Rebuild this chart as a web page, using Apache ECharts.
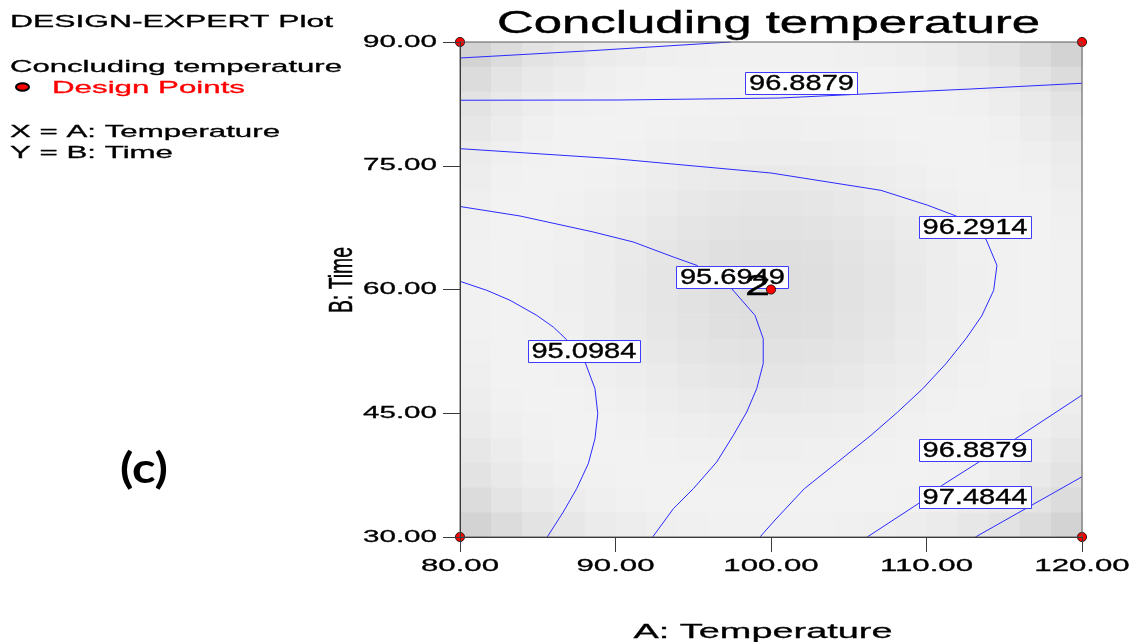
<!DOCTYPE html>
<html>
<head>
<meta charset="utf-8">
<script src="https://cdn.jsdelivr.net/npm/echarts@6/dist/echarts.min.js"></script>
<style>
  html, body { margin: 0; padding: 0; background: #ffffff; }
  #chart { width: 1131px; height: 642px; }
</style>
</head>
<body>
<div id="chart"></div>
<script>
// ---- axes ----
const xTicks = [80, 90, 100, 110, 120];
const yTicks = [30, 45, 60, 75, 90];

// ---- contour levels of the response "Concluding temperature" ----
const levels = [95.0984, 95.6949, 96.2914, 96.8879, 97.4844];

// contour traces, [A: Temperature, B: Time]
const contour95_0984 = [[80, 60.99], [81.72, 59.90], [83.22, 58.69], [84.93, 56.87], [86.0, 55.45], [86.86, 53.92], [88.04, 51.21], [88.68, 47.98], [88.86, 44.95], [88.68, 41.92], [88.25, 38.89], [87.5, 35.85], [86.64, 33.03], [85.61, 30]];
const contour95_6949 = [[80, 70.06], [83.86, 68.91], [88.57, 66.97], [91.14, 65.76], [93.72, 63.94], [95.22, 62.93], [97.47, 60.10], [98.97, 56.87], [99.5, 54.04], [99.5, 51.01], [99.08, 47.98], [98.44, 45.15], [97.58, 42.33], [96.51, 39.09], [95.0, 35.85], [93.72, 33.43], [92.39, 30]];
const contour96_2914 = [[80, 77.07], [89.97, 75.85], [100.0, 74.12], [107.07, 72.02], [110.08, 70.21], [111.9, 68.91], [113.83, 66.08], [114.53, 62.93], [114.32, 59.9], [113.55, 56.79], [112.54, 54.04], [111.25, 51.01], [109.76, 47.98], [108.15, 45.15], [106.43, 42.33], [104.29, 39.09], [102.14, 35.85], [100.26, 32.06], [99.29, 30]];
const contour96_8879Top = [[80, 82.94], [90.29, 82.97], [100.58, 83.21], [105.53, 83.66], [112.8, 84.3], [120, 85.0]];
const contour96_8879Low = [[106.19, 30], [109.47, 34.04], [111.01, 36.27], [113.37, 39.09], [115.73, 41.91], [120, 47.2]];
const contour97_4844Top = [[80, 88.06], [88.55, 88.96], [97.4, 90]];
const contour97_4844Low = [[113.15, 30], [120, 37.3]];

const contourPieces = [
  { level: 0, points: contour95_0984 },
  { level: 1, points: contour95_6949 },
  { level: 2, points: contour96_2914 },
  { level: 3, points: contour96_8879Top },
  { level: 3, points: contour96_8879Low },
  { level: 4, points: contour97_4844Top },
  { level: 4, points: contour97_4844Low }
];

// where each level's value tag sits: [A, B, level index]
const labelSpots = [[101.96, 84.97, 3], [113.12, 67.52, 2], [97.52, 61.52, 1], [87.97, 52.55, 0], [113.12, 40.55, 3], [113.12, 34.79, 4]];

// design points: [A, B, replicates]
const designPoints = [[80, 30, 1], [80, 90, 1], [120, 30, 1], [120, 90, 1], [100, 60, 2]];

// background shading, grey level per cell, rows from B = 90 down to B = 30
const shadeRows = [
  [211,220,227,231,235,237,239,240,241,241,241,241,240,239,237,235,231,227,220,211],
  [220,228,233,236,239,241,242,242,242,242,242,242,242,242,241,239,236,233,228,220],
  [227,233,237,240,241,242,242,242,241,241,241,241,242,242,242,241,240,237,233,227],
  [231,236,240,242,242,242,241,240,240,239,239,240,240,241,242,242,242,240,236,231],
  [235,239,241,242,242,241,239,238,237,237,237,237,238,239,241,242,242,241,239,235],
  [237,241,242,242,241,239,237,235,234,233,233,234,235,237,239,241,242,242,241,237],
  [239,242,242,241,239,237,235,232,230,229,229,230,232,235,237,239,241,242,242,239],
  [240,242,242,240,238,235,232,229,227,226,226,227,229,232,235,238,240,242,242,240],
  [241,242,241,240,237,234,230,227,224,223,223,224,227,230,234,237,240,241,242,241],
  [241,242,241,239,237,233,229,226,223,222,222,223,226,229,233,237,239,241,242,241],
  [241,242,241,239,237,233,229,226,223,222,222,223,226,229,233,237,239,241,242,241],
  [241,242,241,240,237,234,230,227,224,223,223,224,227,230,234,237,240,241,242,241],
  [240,242,242,240,238,235,232,229,227,226,226,227,229,232,235,238,240,242,242,240],
  [239,242,242,241,239,237,235,232,230,229,229,230,232,235,237,239,241,242,242,239],
  [237,241,242,242,241,239,237,235,234,233,233,234,235,237,239,241,242,242,241,237],
  [235,239,241,242,242,241,239,238,237,237,237,237,238,239,241,242,242,241,239,235],
  [231,236,240,242,242,242,241,240,240,239,239,240,240,241,242,242,242,240,236,231],
  [227,233,237,240,241,242,242,242,241,241,241,241,242,242,242,241,240,237,233,227],
  [220,228,233,236,239,241,242,242,242,242,242,242,242,242,241,239,236,233,228,220],
  [211,220,227,231,235,237,239,240,241,241,241,241,240,239,237,235,231,227,220,211]
];

// ---- helpers ----
const FONT = '"Liberation Sans", Arial, sans-serif';
const X_MIN = xTicks[0], X_MAX = xTicks[xTicks.length - 1];
const Y_MIN = yTicks[0], Y_MAX = yTicks[yTicks.length - 1];
const measureCtx = document.createElement('canvas').getContext('2d');
function widthOf(text, font) { measureCtx.font = font; return measureCtx.measureText(text).width; }
function stretchTo(text, font, width) { return width / widthOf(text, font); }

// text style with a hairline outline so the wide lettering keeps its weight
function inkStyle(text, font, color, align, outline) {
  return { text: text, x: 0, y: 0, font: font, fill: color,
           stroke: outline ? color : null, lineWidth: outline || 0,
           align: align, verticalAlign: 'middle', textAlign: align, textVerticalAlign: 'middle' };
}

function wideText(text, x, y, size, width, opt) {
  opt = opt || {};
  const font = (opt.weight || 'normal') + ' ' + size + 'px ' + (opt.family || FONT);
  return {
    type: 'text', x: x, y: y, z: 20,
    scaleX: stretchTo(text, font, width),
    style: inkStyle(text, font, opt.color || '#000000', opt.align || 'left',
                    opt.outline === undefined ? 0.3 : opt.outline)
  };
}

// shading cells centred on the grid
const nCols = shadeRows[0].length, nRows = shadeRows.length;
const cellW = (X_MAX - X_MIN) / nCols, cellH = (Y_MAX - Y_MIN) / nRows;
const shadeCells = [];
shadeRows.forEach(function (row, r) {
  row.forEach(function (v, c) {
    shadeCells.push([X_MIN + (c + 0.5) * cellW, Y_MAX - (r + 0.5) * cellH, v]);
  });
});

const tickFont = '17px ' + FONT;
const xTickStretch = stretchTo('90.00', tickFont, 78);
const yTickStretch = stretchTo('90.00', tickFont, 74);
const tagFont = '21.5px ' + FONT;
const tagStretch = stretchTo('96.8879', tagFont, 105);

const chart = echarts.init(document.getElementById('chart'), null, { renderer: 'canvas' });

const series = [];

series.push({
  type: 'custom', name: 'shade', z: 1, silent: true,
  data: shadeCells,
  renderItem: function (params, api) {
    const p0 = api.coord([api.value(0) - cellW / 2, api.value(1) + cellH / 2]);
    const p1 = api.coord([api.value(0) + cellW / 2, api.value(1) - cellH / 2]);
    const v = api.value(2);
    return { type: 'rect',
      shape: { x: p0[0], y: p0[1], width: p1[0] - p0[0] + 0.6, height: p1[1] - p0[1] + 0.6 },
      style: { fill: 'rgb(' + v + ',' + v + ',' + v + ')' } };
  }
});

contourPieces.forEach(function (piece) {
  series.push({
    type: 'line', name: levels[piece.level].toFixed(4), z: 3, silent: true,
    data: piece.points, symbol: 'none', smooth: false,
    lineStyle: { color: '#2a2aff', width: 1 }
  });
});

series.push({
  type: 'custom', name: 'levelTags', z: 5, silent: true,
  data: labelSpots,
  renderItem: function (params, api) {
    const p = api.coord([api.value(0), api.value(1)]);
    const text = levels[api.value(2)].toFixed(4);
    const bx = Math.round(p[0] - 56) + 0.5, by = Math.round(p[1] - 11) + 0.5;
    return { type: 'group', children: [
      { type: 'rect', shape: { x: bx, y: by, width: 112, height: 22 },
        style: { fill: '#ffffff', stroke: '#3c3cff', lineWidth: 1 } },
      { type: 'text', x: p[0], y: p[1] + 1, scaleX: tagStretch,
        style: inkStyle(text, tagFont, '#000000', 'center', 0.35) }
    ] };
  }
});

series.push({
  type: 'custom', name: 'Design Points', z: 8, silent: true, clip: false,
  data: designPoints,
  renderItem: function (params, api) {
    const p = api.coord([api.value(0), api.value(1)]);
    const n = api.value(2);
    const children = [];
    if (n > 1) {
      children.push({ type: 'text', x: p[0] - 1, y: p[1] - 3, scaleX: 1.5,
        style: inkStyle(String(n), '30px ' + FONT, '#000000', 'right', 0.4) });
    }
    children.push({ type: 'circle', shape: { cx: p[0], cy: p[1], r: 4.6 },
      style: { fill: '#ff0000', stroke: '#000000', lineWidth: 0.8 } });
    return { type: 'group', children: children };
  }
});

series.push({
  type: 'custom', name: 'xTickLabels', z: 8, silent: true, clip: false,
  data: xTicks.map(function (v) { return [v, Y_MIN]; }),
  renderItem: function (params, api) {
    const p = api.coord([api.value(0), api.value(1)]);
    return { type: 'text', x: p[0], y: p[1] + 29, scaleX: xTickStretch,
      style: inkStyle(api.value(0).toFixed(2), tickFont, '#000000', 'center', 0.3) };
  }
});

series.push({
  type: 'custom', name: 'yTickLabels', z: 8, silent: true, clip: false,
  data: yTicks.map(function (v) { return [X_MIN, v]; }),
  renderItem: function (params, api) {
    const p = api.coord([api.value(0), api.value(1)]);
    return { type: 'text', x: p[0] - 23, y: p[1], scaleX: yTickStretch,
      style: inkStyle(api.value(1).toFixed(2), tickFont, '#000000', 'right', 0.3) };
  }
});

const axisColor = '#3a3a3a';
const timeFont = '19px ' + FONT;

chart.setOption({
  animation: false,
  backgroundColor: '#ffffff',
  grid: { left: 460, top: 42, width: 622, height: 495, show: true, z: 10,
          borderColor: '#5a5a5a', borderWidth: 1, backgroundColor: 'transparent' },
  xAxis: {
    type: 'value', min: X_MIN, max: X_MAX, interval: 10, z: 10,
    axisLine: { show: true, onZero: false, lineStyle: { color: axisColor, width: 1 } },
    axisTick: { show: true, length: 15, lineStyle: { color: axisColor } },
    axisLabel: { show: false }, splitLine: { show: false }
  },
  yAxis: {
    type: 'value', min: Y_MIN, max: Y_MAX, interval: 15, z: 10,
    axisLine: { show: true, onZero: false, lineStyle: { color: axisColor, width: 1 } },
    axisTick: { show: true, length: 17, lineStyle: { color: axisColor } },
    axisLabel: { show: false }, splitLine: { show: false }
  },
  graphic: [
    wideText('DESIGN-EXPERT Plot', 10, 22.5, 17, 323),
    wideText('Concluding temperature', 10, 67, 17, 332),
    { type: 'ellipse', z: 20, shape: { cx: 22.5, cy: 87, rx: 6.5, ry: 3.8 },
      style: { fill: '#ff0000', stroke: '#000000', lineWidth: 2 } },
    wideText('Design Points', 52, 88.3, 17, 193, { color: '#ff0000' }),
    wideText('X = A: Temperature', 10, 132, 17, 270),
    wideText('Y = B: Time', 10, 153.3, 17, 163),
    wideText('(c)', 144, 469, 42, 48, { weight: 'bold', family: 'Lato, "Open Sans", sans-serif', align: 'center', outline: 0 }),
    wideText('Concluding temperature', 768.5, 24, 31, 543, { align: 'center', outline: 0.4 }),
    wideText('A: Temperature', 763, 632, 21, 259, { align: 'center' }),
    { type: 'text', x: 343, y: 280, z: 20, rotation: Math.PI / 2,
      scaleX: stretchTo('B: Time', timeFont, 66), scaleY: 1.7,
      style: inkStyle('B: Time', timeFont, '#000000', 'center', 0.3) }
  ],
  series: series
});
</script>
</body>
</html>
